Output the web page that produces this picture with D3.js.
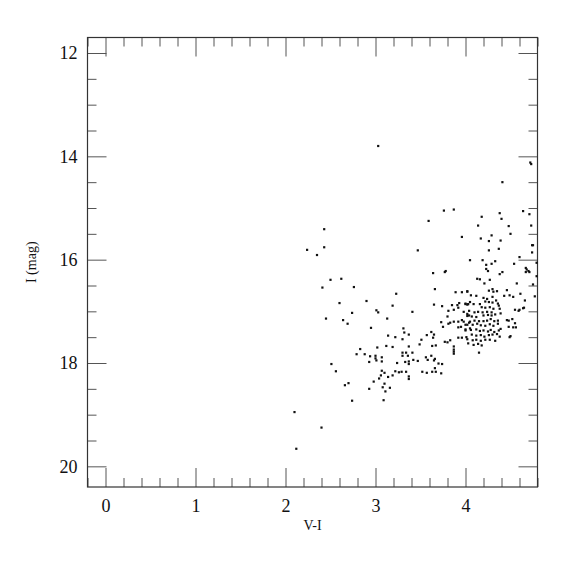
<!DOCTYPE html>
<html>
<head>
<meta charset="utf-8">
<script src="https://cdn.jsdelivr.net/npm/d3@7"></script>
<style>
  body { margin: 0; background: #fff; }
  text { font-family: "Liberation Serif", "DejaVu Serif", serif; fill: #111; }
</style>
</head>
<body>
<div id="main"></div>
<script>
// V-I colour of each star
const viValues = [
  3.03, 4.72, 4.73, 4.41, 2.43, 2.43, 2.24, 2.35,
  3.76, 3.87, 3.59, 4.38, 4.40, 4.18, 4.14, 4.48, 4.50, 4.29, 3.96, 4.17, 4.26, 4.39,
  4.64, 4.71, 4.73, 4.74, 4.75, 4.74, 4.26, 4.37, 4.05, 4.19, 4.33, 4.60, 4.23, 4.29,
  4.54, 4.67, 4.79, 3.47, 4.68, 4.70, 3.64, 3.77, 3.78, 4.23, 4.25, 4.41, 4.38, 4.67,
  4.71, 4.79, 4.13, 4.16, 4.27, 4.21, 4.57, 4.75,
  2.50, 2.62, 2.41, 2.76, 3.23, 2.60, 2.90, 3.19, 2.74, 3.01, 3.03, 2.45, 2.64, 2.69,
  3.13, 2.95, 3.14, 3.22, 2.83, 3.02, 3.12, 3.19, 2.79, 2.88, 2.94, 3.00, 3.00, 3.07,
  2.93, 3.01, 3.07, 3.24, 2.51, 2.56, 3.07, 3.22, 3.26, 3.06, 3.10, 3.19, 3.04, 3.14,
  2.70, 2.66, 2.98, 3.10, 3.16, 2.93, 3.08, 3.11,
  3.31, 3.32, 3.37, 3.30, 3.37, 3.30, 3.34, 3.30, 3.36, 3.33, 3.37, 3.29, 3.34, 3.37,
  3.37, 2.74, 3.09, 2.10, 2.40, 2.12,
  3.66, 3.65, 3.41, 3.89, 3.96, 4.02, 3.74, 3.85, 3.91, 3.93, 4.00, 4.03, 3.81, 3.87,
  3.92, 3.98, 4.02, 4.04, 3.80, 3.83, 3.73, 3.75, 3.81, 3.87, 3.92, 3.96, 3.98, 4.00,
  4.04, 4.05, 3.92, 3.95, 4.00, 3.57, 3.62, 3.65, 3.92, 3.96, 4.01, 3.51, 3.49, 3.77,
  3.80, 3.83, 3.63, 3.67, 3.87, 3.87, 3.87, 3.87, 3.41,
  4.02, 4.06, 4.12, 4.26, 4.30, 4.31, 4.35, 4.46, 4.43, 4.49, 4.53, 4.61, 4.77, 4.66,
  4.20, 4.24, 4.30, 4.22, 4.26, 4.30, 4.34, 4.36, 4.37, 4.05, 4.09, 4.00, 4.02,
  4.16, 4.18, 4.22, 4.27, 4.31, 4.38, 4.59, 4.64, 4.04, 4.10, 4.14,
  4.19, 4.24, 4.29, 4.20, 4.25, 4.29, 4.33, 4.39, 4.02, 4.07, 4.12,
  4.05, 4.10, 4.15, 4.20, 4.24, 4.28, 4.32, 4.36, 4.46, 4.48, 4.52,
  4.02, 4.08, 4.13, 4.17, 4.22, 4.27, 4.31, 4.36, 4.55, 4.48, 4.53, 4.56,
  4.00, 4.06, 4.12, 4.16, 4.20, 4.25, 4.28, 4.32, 4.37, 4.39,
  4.07, 4.12, 4.17, 4.21, 4.26, 4.30, 4.35, 4.38, 4.50, 4.49,
  4.02, 4.08, 4.12, 4.17, 4.22, 4.27, 4.33, 4.03, 4.09, 4.14, 4.18, 4.15,
  3.37, 3.42, 3.47, 3.56, 3.64, 3.58, 3.66, 3.62, 3.65, 3.66, 3.67, 3.70, 3.74,
  3.52, 3.57, 3.63, 3.73, 4.55, 4.60, 4.65
];
// I magnitude of each star
const iValues = [
  13.80, 14.12, 14.15, 14.50, 15.41, 15.76, 15.81, 15.91,
  15.05, 15.03, 15.25, 15.10, 15.21, 15.17, 15.34, 15.35, 15.50, 15.53, 15.56, 15.59, 15.64, 15.63,
  15.06, 15.12, 15.34, 15.72, 15.72, 15.86, 15.82, 15.79, 16.01, 16.01, 16.03, 15.95, 16.10, 16.08,
  16.08, 16.16, 16.06, 15.82, 16.19, 16.22, 16.26, 16.24, 16.22, 16.18, 16.22, 16.24, 16.28, 16.24,
  16.24, 16.32, 16.37, 16.38, 16.39, 16.46, 16.46, 16.48,
  16.39, 16.37, 16.54, 16.53, 16.66, 16.84, 16.80, 16.89, 17.03, 16.98, 17.02, 17.14, 17.17, 17.24,
  17.14, 17.32, 17.47, 17.50, 17.73, 17.70, 17.67, 17.69, 17.83, 17.83, 17.87, 17.86, 17.91, 17.89,
  17.98, 17.95, 17.97, 18.00, 18.02, 18.16, 18.15, 18.16, 18.18, 18.24, 18.19, 18.24, 18.30, 18.27,
  18.39, 18.43, 18.36, 18.40, 18.48, 18.50, 18.47, 18.55,
  17.33, 17.41, 17.45, 17.54, 17.68, 17.80, 17.80, 17.86, 17.86, 17.98, 18.02, 18.17, 18.17, 18.26,
  18.31, 18.73, 18.72, 18.95, 19.25, 19.66,
  16.57, 16.87, 17.01, 16.63, 16.63, 16.62, 16.90, 16.88, 16.88, 16.84, 16.85, 16.86, 16.99, 16.97,
  16.93, 17.01, 17.05, 17.08, 17.10, 17.22, 17.21, 17.30, 17.24, 17.20, 17.20, 17.17, 17.20, 17.26,
  17.22, 17.33, 17.31, 17.30, 17.37, 17.46, 17.40, 17.45, 17.51, 17.51, 17.50, 17.55, 17.64, 17.59,
  17.60, 17.56, 17.67, 17.66, 17.68, 17.74, 17.78, 17.82, 17.80,
  16.61, 16.69, 16.70, 16.60, 16.57, 16.62, 16.61, 16.59, 16.70, 16.69, 16.72, 16.66, 16.71, 16.79,
  16.74, 16.76, 16.72, 16.81, 16.82, 16.83, 16.79, 16.85, 16.89, 16.82, 16.86, 16.86, 16.87,
  16.86, 16.92, 16.93, 16.92, 16.95, 16.95, 16.99, 16.94, 16.99, 17.02, 17.01,
  17.02, 17.01, 17.02, 17.08, 17.07, 17.08, 17.06, 17.04, 17.09, 17.10, 17.11,
  17.20, 17.18, 17.19, 17.19, 17.18, 17.15, 17.19, 17.18, 17.17, 17.18, 17.15,
  17.26, 17.26, 17.24, 17.27, 17.28, 17.25, 17.28, 17.24, 17.23, 17.30, 17.31, 17.31,
  17.35, 17.36, 17.35, 17.38, 17.37, 17.39, 17.36, 17.40, 17.37, 17.34,
  17.45, 17.47, 17.46, 17.49, 17.46, 17.45, 17.44, 17.49, 17.48, 17.50,
  17.54, 17.56, 17.55, 17.57, 17.55, 17.55, 17.57, 17.62, 17.65, 17.63, 17.66, 17.80,
  17.97, 17.94, 17.96, 17.89, 17.51, 17.94, 17.92, 17.86, 17.95, 18.10, 18.17, 18.01, 18.02,
  18.17, 18.19, 18.17, 18.20, 16.97, 16.97, 16.93
];

const xMajor = [0, 1, 2, 3, 4];
const yMajor = [12, 14, 16, 18, 20];

const stars = viValues.map((v, i) => ({ vi: v, mag: iValues[i] }));

const width = 575, height = 575;
const margin = { top: 37.5, right: 37.5, bottom: 88, left: 87.5 };
const w = width - margin.left - margin.right;
const h = height - margin.top - margin.bottom;

let svg = d3.select("#main").append("svg").attr("width", width).attr("height", height);
let g = svg.append("g").attr("transform", `translate(${margin.left},${margin.top})`);

let x = d3.scaleLinear().domain([-0.2, 4.8]).range([0, w]);
let y = d3.scaleLinear().domain([11.7, 20.4]).range([0, h]);

const xMinor = d3.range(-0.2, 4.81, 0.2).map((d) => +d.toFixed(1)).filter((d) => !xMajor.includes(d));
const yMinor = d3.range(12, 20.41, 0.5).filter((d) => !yMajor.includes(d));

function styleAxis(sel) {
    sel.select(".domain").remove();
    sel.selectAll("line").attr("stroke", "#555");
    sel.selectAll("text").style("font-size", "18px").style("font-family", "Liberation Serif, serif").attr("fill", "#111");
}

// bottom
g.append("g").attr("transform", `translate(0,${h})`)
    .call(d3.axisBottom(x).tickValues(xMajor).tickSize(-19).tickPadding(12).tickFormat(d3.format("d")))
    .call(styleAxis);
g.append("g").attr("transform", `translate(0,${h})`)
    .call(d3.axisBottom(x).tickValues(xMinor).tickSize(-9).tickFormat(""))
    .call(styleAxis);
// top
g.append("g").call(d3.axisTop(x).tickValues(xMajor).tickSize(-19).tickFormat("")).call(styleAxis);
g.append("g").call(d3.axisTop(x).tickValues(xMinor).tickSize(-9).tickFormat("")).call(styleAxis);
// left
g.append("g")
    .call(d3.axisLeft(y).tickValues(yMajor).tickSize(-19).tickPadding(10).tickFormat(d3.format("d")))
    .call(styleAxis);
g.append("g").call(d3.axisLeft(y).tickValues(yMinor).tickSize(-9).tickFormat("")).call(styleAxis);
// right
g.append("g").attr("transform", `translate(${w},0)`)
    .call(d3.axisRight(y).tickValues(yMajor).tickSize(-19).tickFormat("")).call(styleAxis);
g.append("g").attr("transform", `translate(${w},0)`)
    .call(d3.axisRight(y).tickValues(yMinor).tickSize(-9).tickFormat("")).call(styleAxis);

// frame
g.append("rect").attr("width", w).attr("height", h)
    .attr("fill", "none").attr("stroke", "#333").attr("stroke-width", 1.2);

// points
g.append("g").selectAll("rect.star").data(stars).enter().append("rect")
    .classed("star", true)
    .attr("x", (d) => x(d.vi) - 1.1)
    .attr("y", (d) => y(d.mag) - 1.1)
    .attr("width", 2.2).attr("height", 2.2)
    .attr("fill", "#111");

// titles
svg.append("text").attr("x", margin.left + w / 2).attr("y", 530)
    .attr("text-anchor", "middle").style("font-size", "14px").text("V-I");
svg.append("text").attr("transform", `translate(36,${margin.top + h / 2}) rotate(-90)`)
    .attr("text-anchor", "middle").style("font-size", "14px").text("I (mag)");
</script>
</body>
</html>
